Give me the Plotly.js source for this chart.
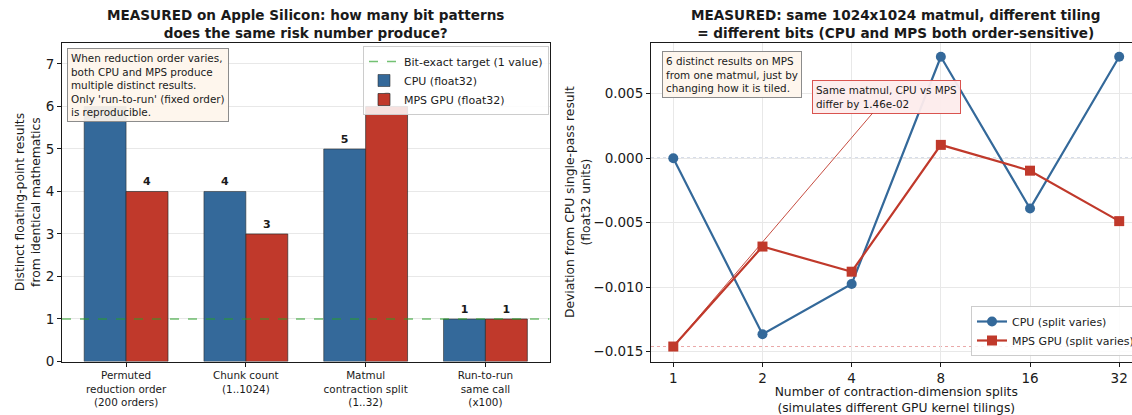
<!DOCTYPE html>
<html>
<head>
<meta charset="utf-8">
<script src="https://cdn.plot.ly/plotly-3.0.1.min.js"></script>
<style>
html,body{margin:0;padding:0;overflow:hidden;background:#fff;}
#chart{width:1142px;height:415px;}
</style>
</head>
<body>
<div id="chart"></div>
<script>
// ---- data ----
const categories = ["Permuted<br>reduction order<br>(200 orders)", "Chunk count<br>(1..1024)", "Matmul<br>contraction split<br>(1..32)", "Run-to-run<br>same call<br>(x100)"];
const cpuCounts = [6, 4, 5, 1];
const mpsCounts = [4, 3, 6, 1];
const bitExactTarget = 1;

const splits = [1, 2, 4, 8, 16, 32];
const splitLabels = ["1", "2", "4", "8", "16", "32"];
const cpuDeviation = [0.0, -0.01365, -0.00975, 0.00786, -0.0039, 0.00786];
const mpsDeviation = [-0.0146, -0.00685, -0.0088, 0.00103, -0.00097, -0.00488];

// ---- styles ----
const W = 1142, H = 415;
const FONT = "DejaVu Sans";
const CPU_COLOR = "#34699a";
const MPS_COLOR = "#c0392b";
const INK = "#1a1a1a";
const GRID = "#e8e8e8";
const px = v => v / W;
const py = v => (H - v) / H;
const yDom = [py(361.5), py(42.7)];

// python-style scientific format, e.g. 1.46e-02
function sci(v, d) {
  const s = Math.abs(v).toExponential(d).split("e");
  const e = parseInt(s[1], 10);
  return s[0] + "e" + (e < 0 ? "-" : "+") + String(Math.abs(e)).padStart(2, "0");
}

// the label of the first CPU bar sits under the note box in the original
const cpuLabels = cpuCounts.map((v, i) => i === 0 ? "" : "%{y}");

const traces = [
  {
    type: "scatter", mode: "lines", name: "Bit-exact target (1 value)",
    x: [0, 1], y: [bitExactTarget, bitExactTarget],
    xaxis: "x3", yaxis: "y",
    line: {color: "rgba(40,160,40,0.65)", width: 1.6, dash: "dash"},
    legend: "legend", hoverinfo: "skip"
  },
  {
    type: "bar", name: "CPU (float32)", x: categories, y: cpuCounts,
    xaxis: "x", yaxis: "y",
    marker: {color: CPU_COLOR, line: {color: "rgba(40,40,40,0.6)", width: 0.9}},
    texttemplate: cpuLabels, textposition: "outside", cliponaxis: false, constraintext: "none",
    textfont: {family: FONT, size: 11, weight: "bold", color: INK},
    legend: "legend"
  },
  {
    type: "bar", name: "MPS GPU (float32)", x: categories, y: mpsCounts,
    xaxis: "x", yaxis: "y",
    marker: {color: MPS_COLOR, line: {color: "rgba(40,40,40,0.75)", width: 0.9}},
    texttemplate: "%{y}", textposition: "outside", cliponaxis: false, constraintext: "none",
    textfont: {family: FONT, size: 11, weight: "bold", color: INK},
    legend: "legend"
  },
  {
    type: "scatter", mode: "lines+markers", name: "CPU (split varies)",
    x: splits, y: cpuDeviation, xaxis: "x2", yaxis: "y2",
    line: {color: CPU_COLOR, width: 2.2},
    marker: {symbol: "circle", size: 10, color: CPU_COLOR},
    legend: "legend2", cliponaxis: false
  },
  {
    type: "scatter", mode: "lines+markers", name: "MPS GPU (split varies)",
    x: splits, y: mpsDeviation, xaxis: "x2", yaxis: "y2",
    line: {color: MPS_COLOR, width: 2.2},
    marker: {symbol: "square", size: 10, color: MPS_COLOR},
    legend: "legend2", cliponaxis: false
  }
];

const axisCommon = {
  showline: true, linecolor: INK, linewidth: 1, mirror: true,
  ticks: "outside", ticklen: 4, tickcolor: INK, tickwidth: 1,
  zeroline: false, automargin: false,
  tickfont: {family: FONT, size: 13.5, color: INK}
};

const log2 = Math.log10(2);
const layout = {
  width: W, height: H,
  margin: {l: 0, r: 0, t: 0, b: 0},
  paper_bgcolor: "#fff", plot_bgcolor: "#fff",
  font: {family: FONT, color: INK},
  showlegend: true,
  barmode: "group", bargap: 0.3, bargroupgap: 0,
  xaxis: Object.assign({}, axisCommon, {
    domain: [px(62), px(549.5)], anchor: "y", type: "category",
    range: [-0.535, 3.535], showgrid: false,
    tickfont: {family: FONT, size: 10.4, color: INK}
  }),
  xaxis3: {overlaying: "x", anchor: "y", range: [0, 1], visible: false, domain: [px(62), px(549.5)]},
  yaxis: Object.assign({}, axisCommon, {
    domain: yDom, anchor: "x", range: [0, 7.5], dtick: 1, tick0: 0,
    showgrid: true, gridcolor: GRID, gridwidth: 1,
    title: {text: "Distinct floating-point results<br>from identical mathematics", standoff: 2,
            font: {family: FONT, size: 12.3, color: INK}}
  }),
  xaxis2: Object.assign({}, axisCommon, {
    domain: [px(651), px(1141.5)], anchor: "y2", type: "log",
    range: [-0.25 * log2, 5.25 * log2],
    tickvals: splits, ticktext: splitLabels,
    showgrid: true, gridcolor: GRID, gridwidth: 1,
    title: {text: "Number of contraction-dimension splits<br>(simulates different GPU kernel tilings)", standoff: 6,
            font: {family: FONT, size: 12.3, color: INK}}
  }),
  yaxis2: Object.assign({}, axisCommon, {
    domain: yDom, anchor: "x2", range: [-0.01576, 0.00895],
    dtick: 0.005, tick0: 0, tickformat: ".3f",
    showgrid: true, gridcolor: GRID, gridwidth: 1,
    title: {text: "Deviation from CPU single-pass result<br>(float32 units)", standoff: 0,
            font: {family: FONT, size: 12.3, color: INK}}
  }),
  legend: {
    x: px(363), y: py(46), xanchor: "left", yanchor: "top",
    bgcolor: "rgba(255,255,255,0.85)", bordercolor: "#cccccc", borderwidth: 1,
    font: {family: FONT, size: 11, color: INK}, tracegroupgap: 0, itemwidth: 30
  },
  legend2: {
    x: px(971), y: py(356), xanchor: "left", yanchor: "bottom",
    bgcolor: "rgba(255,255,255,0.85)", bordercolor: "#cccccc", borderwidth: 1,
    font: {family: FONT, size: 11, color: INK}, tracegroupgap: 0, itemwidth: 30
  },
  shapes: [
    {type: "line", xref: "x2 domain", yref: "y2", x0: 0, x1: 1, y0: 0, y1: 0,
     line: {color: "rgba(60,90,150,0.6)", width: 1, dash: "dot"}, layer: "below"},
    {type: "line", xref: "x2 domain", yref: "y2", x0: 0, x1: 1, y0: mpsDeviation[0], y1: mpsDeviation[0],
     line: {color: "rgba(220,110,110,0.6)", width: 1, dash: "dot"}, layer: "below"}
  ],
  annotations: [
    {xref: "paper", yref: "paper", x: px(305.8), y: py(24), xanchor: "center", yanchor: "middle",
     text: "MEASURED on Apple Silicon: how many bit patterns<br>does the same risk number produce?",
     showarrow: false, font: {family: FONT, size: 13.6, weight: "bold", color: INK}},
    {xref: "paper", yref: "paper", x: px(896), y: py(24), xanchor: "center", yanchor: "middle",
     text: "MEASURED: same 1024x1024 matmul, different tiling<br>= different bits (CPU and MPS both order-sensitive)",
     showarrow: false, font: {family: FONT, size: 13.6, weight: "bold", color: INK}},
    {xref: "paper", yref: "paper", x: px(67.3), y: py(48.3), xanchor: "left", yanchor: "top",
     text: "When reduction order varies,<br>both CPU and MPS produce<br>multiple distinct results.<br>Only 'run-to-run' (fixed order)<br>is reproducible.",
     align: "left", showarrow: false, font: {family: FONT, size: 10.4, color: INK},
     bgcolor: "rgba(254,245,235,0.92)", bordercolor: "#8c8c8c", borderwidth: 1, borderpad: 3},
    {xref: "paper", yref: "paper", x: px(662), y: py(51), xanchor: "left", yanchor: "top",
     text: "6 distinct results on MPS<br>from one matmul, just by<br>changing how it is tiled.",
     align: "left", showarrow: false, font: {family: FONT, size: 10.4, color: INK},
     bgcolor: "rgba(254,245,235,0.92)", bordercolor: "#8c8c8c", borderwidth: 1, borderpad: 3},
    {xref: "x2", yref: "y2", x: Math.log10(splits[0]), y: mpsDeviation[0],
     text: "Same matmul, CPU vs MPS<br>differ by " + sci(cpuDeviation[0] - mpsDeviation[0], 2),
     align: "left", showarrow: true, arrowhead: 0, arrowwidth: 0.9, arrowcolor: MPS_COLOR,
     ax: 213.5, ay: -250, axref: "pixel", ayref: "pixel",
     font: {family: FONT, size: 10.4, color: INK},
     bgcolor: "rgba(253,236,236,0.95)", bordercolor: "#d9534f", borderwidth: 1, borderpad: 3}
  ]
};

Plotly.newPlot("chart", traces, layout, {displayModeBar: false, staticPlot: true});
</script>
</body>
</html>
